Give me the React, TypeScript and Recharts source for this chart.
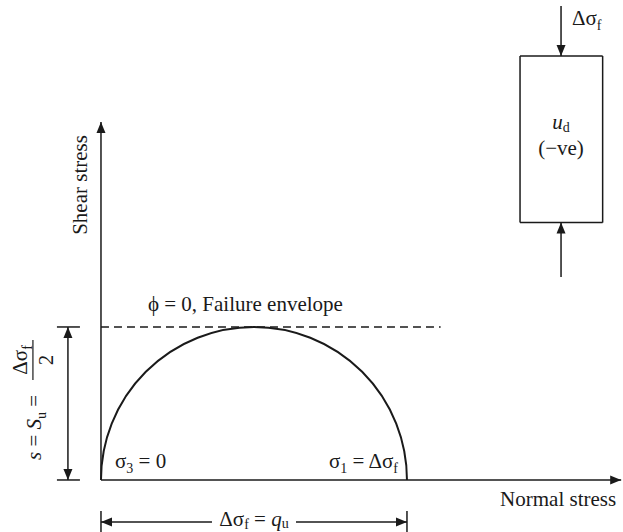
import React from "react";
import { ComposedChart, XAxis, YAxis, ReferenceLine, ReferenceDot } from "recharts";

const W = 623;
const H = 532;
const FONT = "'Liberation Serif', 'DejaVu Serif', serif";
const INK = "#1a1a1a";
const FS = 21;
const SUB = 14;

// stress units: 1 unit = Δσf / 2
const X_DOMAIN: [number, number] = [-0.66, 3.412];
const Y_DOMAIN: [number, number] = [-0.34, 3.137];

// Mohr circle at failure (unconfined, σ3 = 0)
const sigma3 = 0;
const sigma1 = 2;
const shearStrength = 1;
const envelopeEnd = 2.22;
const axisEnds = [3.4, 2.34];

// specimen sketch, top right
const specimenX = [2.739, 3.279];
const specimenY = [1.682, 2.771];
const loadX = 3.007;
const topLoadY = [3.098, 2.771];
const bottomLoadY = [1.327, 1.682];

// dimension lines
const dimLeftX = -0.216;
const dimBottomY = -0.275;

type Dir = "up" | "down" | "left" | "right";

const head = (x: number, y: number, dir: Dir, len = 11, half = 4.5) => {
  let pts: number[][];
  if (dir === "up") pts = [[x, y], [x - half, y + len], [x + half, y + len]];
  else if (dir === "down") pts = [[x, y], [x - half, y - len], [x + half, y - len]];
  else if (dir === "left") pts = [[x, y], [x + len, y - half], [x + len, y + half]];
  else pts = [[x, y], [x - len, y - half], [x - len, y + half]];
  return <polygon points={pts.map((p) => p.join(",")).join(" ")} fill={INK} />;
};

const dirOf = (x1: number, y1: number, x2: number, y2: number): Dir => {
  if (Math.abs(x2 - x1) > Math.abs(y2 - y1)) return x2 > x1 ? "right" : "left";
  return y2 > y1 ? "down" : "up";
};

const arrow = (p: any) => {
  const { x1, y1, x2, y2 } = p;
  return (
    <g>
      <line x1={x1} y1={y1} x2={x2} y2={y2} stroke={INK} strokeWidth={1.5} />
      {head(x2, y2, dirOf(x1, y1, x2, y2))}
    </g>
  );
};

const semicircle = (p: any) => {
  const { x1, y1, x2, y2 } = p;
  const r = (x2 - x1) / 2;
  return (
    <path
      d={`M ${x1} ${y1} A ${r} ${r} 0 0 1 ${x2} ${y2}`}
      fill="none"
      stroke={INK}
      strokeWidth={2}
    />
  );
};

const leftDim = (p: any) => {
  const { x1, y1, x2, y2 } = p;
  return (
    <g>
      <line x1={x1} y1={y1} x2={x2} y2={y2} stroke={INK} strokeWidth={1.5} />
      {head(x1, y1, "down")}
      {head(x2, y2, "up")}
      <line x1={x1 - 11} y1={y1} x2={x1 + 12} y2={y1} stroke={INK} strokeWidth={1.5} />
      <line x1={x2 - 11} y1={y2} x2={x2 + 12} y2={y2} stroke={INK} strokeWidth={1.5} />
    </g>
  );
};

const bottomDim = (p: any) => {
  const { x1, y1, x2, y2 } = p;
  const mid = (x1 + x2) / 2;
  return (
    <g>
      <line x1={x1} y1={y1} x2={mid - 42} y2={y2} stroke={INK} strokeWidth={1.5} />
      <line x1={mid + 42} y1={y1} x2={x2} y2={y2} stroke={INK} strokeWidth={1.5} />
      {head(x1, y1, "left")}
      {head(x2, y2, "right")}
      <line x1={x1} y1={y1 - 11} x2={x1} y2={y1 + 10} stroke={INK} strokeWidth={1.5} />
      <line x1={x2} y1={y2 - 11} x2={x2} y2={y2 + 10} stroke={INK} strokeWidth={1.5} />
    </g>
  );
};

const txt = { fontFamily: FONT, fontSize: FS, fill: INK } as const;

const Sub = ({ children, drop = 5 }: { children: React.ReactNode; drop?: number }) => (
  <tspan fontSize={SUB} dy={drop}>
    {children}
  </tspan>
);

const label = (render: (cx: number, cy: number) => React.ReactElement) => (p: any) =>
  render(p.cx, p.cy);

const edge = (xa: number, ya: number, xb: number, yb: number) => (
  <ReferenceLine
    segment={[{ x: xa, y: ya }, { x: xb, y: yb }]}
    ifOverflow="visible"
    stroke={INK}
    strokeWidth={1.5}
  />
);

export default function App() {
  return (
    <div style={{ position: "absolute", left: 0, top: 0, background: "#fff" }}>
      <ComposedChart width={W} height={H} data={[]} margin={{ top: 0, right: 0, bottom: 0, left: 0 }}>
        <XAxis type="number" dataKey="x" domain={X_DOMAIN} allowDataOverflow hide />
        <YAxis type="number" domain={Y_DOMAIN} allowDataOverflow hide />

        {/* axes */}
        <ReferenceLine
          segment={[{ x: 0, y: 0 }, { x: axisEnds[0], y: 0 }]}
          ifOverflow="visible"
          shape={arrow}
        />
        <ReferenceLine
          segment={[{ x: 0, y: 0 }, { x: 0, y: axisEnds[1] }]}
          ifOverflow="visible"
          shape={arrow}
        />

        {/* failure envelope */}
        <ReferenceLine
          segment={[{ x: 0, y: shearStrength }, { x: envelopeEnd, y: shearStrength }]}
          ifOverflow="visible"
          stroke={INK}
          strokeWidth={1.5}
          strokeDasharray="8 5"
        />

        {/* Mohr circle */}
        <ReferenceLine
          segment={[{ x: sigma3, y: 0 }, { x: sigma1, y: 0 }]}
          ifOverflow="visible"
          shape={semicircle}
        />

        {/* dimensions */}
        <ReferenceLine
          segment={[{ x: dimLeftX, y: 0 }, { x: dimLeftX, y: shearStrength }]}
          ifOverflow="visible"
          shape={leftDim}
        />
        <ReferenceLine
          segment={[{ x: sigma3, y: dimBottomY }, { x: sigma1, y: dimBottomY }]}
          ifOverflow="visible"
          shape={bottomDim}
        />

        {/* specimen */}
        {edge(specimenX[0], specimenY[0], specimenX[1], specimenY[0])}
        {edge(specimenX[0], specimenY[1], specimenX[1], specimenY[1])}
        {edge(specimenX[0], specimenY[0], specimenX[0], specimenY[1])}
        {edge(specimenX[1], specimenY[0], specimenX[1], specimenY[1])}
        <ReferenceLine
          segment={[{ x: loadX, y: topLoadY[0] }, { x: loadX, y: topLoadY[1] }]}
          ifOverflow="visible"
          shape={arrow}
        />
        <ReferenceLine
          segment={[{ x: loadX, y: bottomLoadY[0] }, { x: loadX, y: bottomLoadY[1] }]}
          ifOverflow="visible"
          shape={arrow}
        />

        {/* text */}
        <ReferenceDot
          x={0}
          y={1.928}
          ifOverflow="visible"
          shape={label((cx, cy) => (
            <text {...txt} transform={`translate(${cx - 14}, ${cy}) rotate(-90)`} textAnchor="middle">
              Shear stress
            </text>
          ))}
        />
        <ReferenceDot
          x={axisEnds[0]}
          y={0}
          ifOverflow="visible"
          shape={label((cx, cy) => (
            <text {...txt} x={cx - 5} y={cy + 26} textAnchor="end">
              Normal stress
            </text>
          ))}
        />
        <ReferenceDot
          x={0}
          y={shearStrength}
          ifOverflow="visible"
          shape={label((cx, cy) => (
            <text {...txt} x={cx + 47} y={cy - 16}>
              ϕ = 0, Failure envelope
            </text>
          ))}
        />
        <ReferenceDot
          x={sigma3}
          y={0}
          ifOverflow="visible"
          shape={label((cx, cy) => (
            <text {...txt} x={cx + 14} y={cy - 12}>
              σ<Sub>3</Sub>
              <tspan dy={-5}> = 0</tspan>
            </text>
          ))}
        />
        <ReferenceDot
          x={sigma1}
          y={0}
          ifOverflow="visible"
          shape={label((cx, cy) => (
            <text {...txt} x={cx - 9} y={cy - 12} textAnchor="end">
              σ<Sub>1</Sub>
              <tspan dy={-5}> = Δσ</tspan>
              <Sub>f</Sub>
            </text>
          ))}
        />
        <ReferenceDot
          x={(sigma3 + sigma1) / 2}
          y={dimBottomY}
          ifOverflow="visible"
          shape={label((cx, cy) => (
            <text {...txt} x={cx} y={cy + 4} textAnchor="middle">
              Δσ<Sub drop={3}>f</Sub>
              <tspan dy={-3}> = </tspan>
              <tspan fontStyle="italic">q</tspan>
              <Sub drop={2}>u</Sub>
            </text>
          ))}
        />
        <ReferenceDot
          x={loadX}
          y={topLoadY[0]}
          ifOverflow="visible"
          shape={label((cx, cy) => (
            <text {...txt} x={cx + 11} y={cy + 19}>
              Δσ<Sub>f</Sub>
            </text>
          ))}
        />
        <ReferenceDot
          x={loadX}
          y={specimenY[1]}
          ifOverflow="visible"
          shape={label((cx, cy) => (
            <g>
              <text {...txt} x={cx} y={cy + 73} textAnchor="middle">
                <tspan fontStyle="italic">u</tspan>
                <Sub drop={3}>d</Sub>
              </text>
              <text {...txt} x={cx} y={cy + 99} textAnchor="middle">
                (−ve)
              </text>
            </g>
          ))}
        />
        <ReferenceDot
          x={dimLeftX}
          y={0.131}
          ifOverflow="visible"
          shape={label((cx, cy) => (
            <g transform={`translate(${cx - 35}, ${cy}) rotate(-90)`}>
              <text {...txt} x={0} y={8}>
                <tspan fontStyle="italic">s</tspan>
                <tspan> = </tspan>
                <tspan fontStyle="italic">S</tspan>
                <Sub>u</Sub>
                <tspan dy={-5}> =</tspan>
              </text>
              <line x1={80} y1={0} x2={120} y2={0} stroke={INK} strokeWidth={1.2} />
              <text {...txt} x={100} y={-6} textAnchor="middle">
                Δσ<Sub>f</Sub>
              </text>
              <text {...txt} x={100} y={20} textAnchor="middle">
                2
              </text>
            </g>
          ))}
        />
      </ComposedChart>
    </div>
  );
}
